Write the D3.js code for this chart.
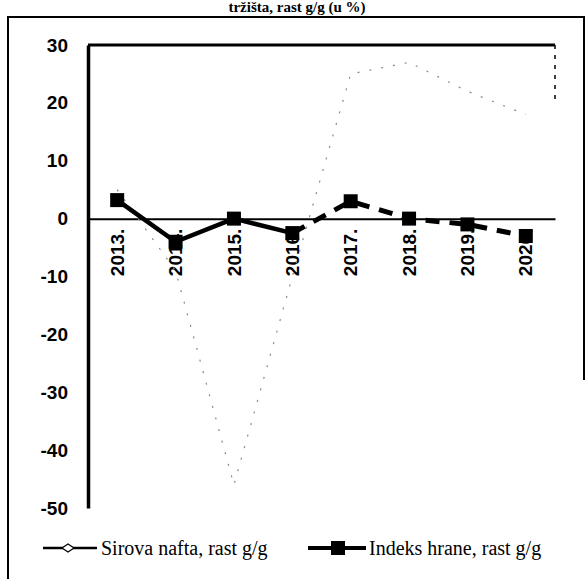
<!DOCTYPE html>
<html>
<head>
<meta charset="utf-8">
<script src="https://cdn.jsdelivr.net/npm/d3@7"></script>
<style>
  body { margin: 0; background: #fff; }
</style>
</head>
<body>
<script>
// data
const years = ["2013.", "2014.", "2015.", "2016.", "2017.", "2018.", "2019.", "2020."];
const naftaValues = [5, -9, -46, -10, 25, 27, 22, 18];   // barely visible in the scan
const hranaValues = [3.2, -4, 0, -2.5, 3, 0, -1, -3];
const yTicks = [30, 20, 10, 0, -10, -20, -30, -40, -50];
const solidUntil = 3; // food index: solid to 2016, dashed after

const W = 586, H = 579;
const svg = d3.select("body").append("svg")
  .attr("width", W)
  .attr("height", H);

// outer frame (top, left, right)
svg.append("path")
  .attr("d", "M8,579 L8,17 L584,17 L584,380")
  .attr("fill", "none")
  .attr("stroke", "#000")
  .attr("stroke-width", 2);

// title (only its last line shows in the scan)
svg.append("text")
  .attr("x", 297).attr("y", 12)
  .attr("text-anchor", "middle")
  .attr("font-family", "Liberation Serif, serif")
  .attr("font-weight", "bold")
  .attr("font-size", 15)
  .text("tržišta, rast g/g (u %)");

const x = d3.scaleBand().domain(years).range([88, 555]);
const y = d3.scaleLinear().domain([-50, 30]).range([508, 45]);

// plot border
svg.append("line")
  .attr("x1", 88).attr("x2", 555)
  .attr("y1", y(30)).attr("y2", y(30))
  .attr("stroke", "#000").attr("stroke-width", 3);
svg.append("line")
  .attr("x1", 555).attr("x2", 555)
  .attr("y1", y(30)).attr("y2", y(20))
  .attr("stroke", "#000").attr("stroke-width", 1.5)
  .attr("stroke-dasharray", "4,6");

// y axis
const yAxis = svg.append("g")
  .attr("transform", "translate(88,0)")
  .call(d3.axisLeft(y).tickValues(yTicks).tickFormat(d => String(d)).tickSize(0).tickPadding(20));
yAxis.select(".domain").attr("stroke-width", 3.5);
yAxis.selectAll("text")
  .attr("font-family", "Liberation Sans, Arial, sans-serif")
  .attr("font-weight", "bold")
  .attr("font-size", 19)
  .attr("fill", "#000");

// zero line with rotated year labels
const xAxis = svg.append("g")
  .attr("transform", `translate(0,${y(0)})`)
  .call(d3.axisBottom(x).tickSize(0).tickPadding(0));
xAxis.select(".domain").attr("stroke-width", 2);
xAxis.selectAll("text")
  .attr("transform", "rotate(-90)")
  .attr("text-anchor", "end")
  .attr("x", -10)
  .attr("y", 0)
  .attr("dy", "0.35em")
  .attr("font-family", "Liberation Sans, Arial, sans-serif")
  .attr("font-weight", "bold")
  .attr("font-size", 19)
  .attr("fill", "#000");

const cx = d => x(d) + x.bandwidth() / 2;

// crude oil - faded dotted line
const naftaData = years.map((d, i) => ({ year: d, v: naftaValues[i] }));
svg.append("path")
  .datum(naftaData)
  .attr("fill", "none")
  .attr("stroke", "#888")
  .attr("stroke-width", 1.2)
  .attr("stroke-dasharray", "2,10")
  .attr("d", d3.line().x(d => cx(d.year)).y(d => y(d.v)));

// food index
const hranaData = years.map((d, i) => ({ year: d, v: hranaValues[i] }));
const foodLine = d3.line().x(d => cx(d.year)).y(d => y(d.v));
svg.append("path")
  .datum(hranaData.slice(0, solidUntil + 1))
  .attr("fill", "none")
  .attr("stroke", "#000")
  .attr("stroke-width", 4.5)
  .attr("d", foodLine);
svg.append("path")
  .datum(hranaData.slice(solidUntil))
  .attr("fill", "none")
  .attr("stroke", "#000")
  .attr("stroke-width", 5)
  .attr("stroke-dasharray", "14,10")
  .attr("d", foodLine);
svg.selectAll("rect.food")
  .data(hranaData)
  .join("rect")
  .attr("class", "food")
  .attr("x", d => cx(d.year) - 7)
  .attr("y", d => y(d.v) - 7)
  .attr("width", 14)
  .attr("height", 14)
  .attr("fill", "#000");

// legend
const lg = svg.append("g").attr("transform", "translate(0,548)");
lg.append("line").attr("x1", 43).attr("x2", 97).attr("y1", 0).attr("y2", 0)
  .attr("stroke", "#000").attr("stroke-width", 2.5);
lg.append("path").attr("d", "M62,0 L68,-4 L74,0 L68,4 Z")
  .attr("fill", "#fff").attr("stroke", "#000").attr("stroke-width", 1.2);
lg.append("text").attr("x", 101).attr("y", 7)
  .attr("font-family", "Liberation Serif, serif")
  .attr("font-size", 20)
  .text("Sirova nafta, rast g/g");

lg.append("line").attr("x1", 308).attr("x2", 366).attr("y1", 0).attr("y2", 0)
  .attr("stroke", "#000").attr("stroke-width", 4);
lg.append("rect").attr("x", 331).attr("y", -7).attr("width", 14).attr("height", 14)
  .attr("fill", "#000");
lg.append("text").attr("x", 369).attr("y", 7)
  .attr("font-family", "Liberation Serif, serif")
  .attr("font-size", 20)
  .text("Indeks hrane, rast g/g");
</script>
</body>
</html>
